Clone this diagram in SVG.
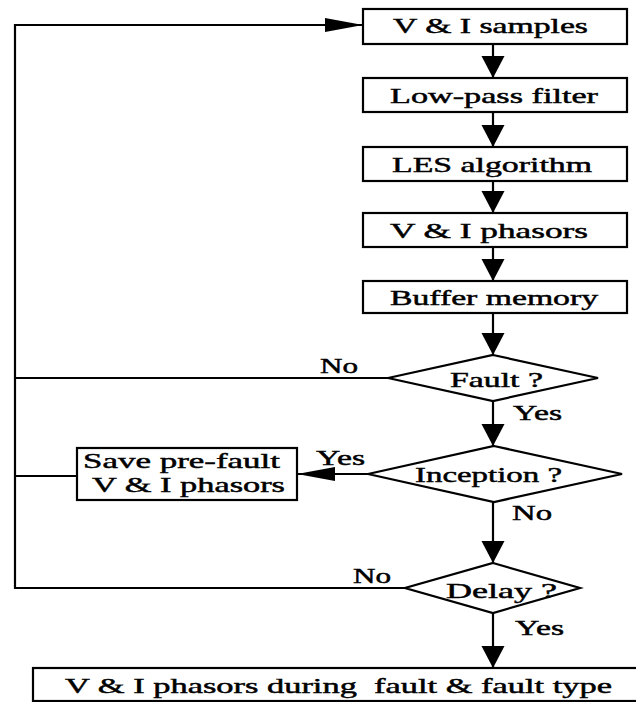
<svg xmlns="http://www.w3.org/2000/svg" width="636" height="702" viewBox="0 0 636 702">
<style>
  .box { fill: #fff; stroke: #000; stroke-width: 2.2; }
  .ln { fill: none; stroke: #000; stroke-width: 2.2; }
  text { font-family: "Liberation Serif", "Times New Roman", serif; font-size: 21px; fill: #000; stroke: #000; stroke-width: 0.45; }
</style>
<defs>
  <marker id="av" markerUnits="userSpaceOnUse" markerWidth="24" markerHeight="26" refX="22" refY="12" orient="auto" viewBox="0 0 24 24">
    <path d="M0,0.5 L22,12 L0,23.5 Z" fill="#000"/>
  </marker>
  <marker id="ah" markerUnits="userSpaceOnUse" markerWidth="40" markerHeight="16" refX="38" refY="7" orient="auto" viewBox="0 0 40 14">
    <path d="M0,0 L38,7 L0,14 Z" fill="#000"/>
  </marker>
</defs>
<g id="connectors">
  <line class="ln" x1="493" y1="44" x2="493" y2="78" marker-end="url(#av)"/>
  <line class="ln" x1="493" y1="112" x2="493" y2="147" marker-end="url(#av)"/>
  <line class="ln" x1="493" y1="181" x2="493" y2="213" marker-end="url(#av)"/>
  <line class="ln" x1="493" y1="247" x2="493" y2="281" marker-end="url(#av)"/>
  <line class="ln" x1="493" y1="313" x2="493" y2="355" marker-end="url(#av)"/>
  <line class="ln" x1="493" y1="401" x2="493" y2="446" marker-end="url(#av)"/>
  <line class="ln" x1="493" y1="502" x2="493" y2="563" marker-end="url(#av)"/>
  <line class="ln" x1="493" y1="613" x2="493" y2="668" marker-end="url(#av)"/>
  <polyline class="ln" points="405,588 15,588 15,25 363,25" marker-end="url(#ah)"/>
  <line class="ln" x1="388" y1="378" x2="15" y2="378"/>
  <line class="ln" x1="77" y1="476" x2="15" y2="476"/>
  <line class="ln" x1="368" y1="474" x2="297" y2="474" marker-end="url(#ah)"/>
  <text x="320" y="373" textLength="38" lengthAdjust="spacingAndGlyphs">No</text>
  <text x="513" y="420" textLength="49" lengthAdjust="spacingAndGlyphs">Yes</text>
  <text x="316" y="465" textLength="49" lengthAdjust="spacingAndGlyphs">Yes</text>
  <text x="512" y="520" textLength="40" lengthAdjust="spacingAndGlyphs">No</text>
  <text x="353" y="583" textLength="38" lengthAdjust="spacingAndGlyphs">No</text>
  <text x="515" y="635" textLength="49" lengthAdjust="spacingAndGlyphs">Yes</text>
</g>
<g id="n1">
  <rect class="box" x="363" y="9" width="264" height="35"/>
  <text x="393" y="33" textLength="195" lengthAdjust="spacingAndGlyphs">V &amp; I samples</text>
</g>
<g id="n2">
  <rect class="box" x="363" y="78" width="264" height="34"/>
  <text x="390" y="103" textLength="208" lengthAdjust="spacingAndGlyphs">Low-pass filter</text>
</g>
<g id="n3">
  <rect class="box" x="363" y="147" width="264" height="34"/>
  <text x="392" y="172" textLength="200" lengthAdjust="spacingAndGlyphs">LES algorithm</text>
</g>
<g id="n4">
  <rect class="box" x="363" y="213" width="264" height="34"/>
  <text x="390" y="238" textLength="198" lengthAdjust="spacingAndGlyphs">V &amp; I phasors</text>
</g>
<g id="n5">
  <rect class="box" x="363" y="281" width="264" height="32"/>
  <text x="390" y="305" textLength="208" lengthAdjust="spacingAndGlyphs">Buffer memory</text>
</g>
<g id="n6">
  <polygon class="box" points="493,355 598,378 493,401 388,378"/>
  <text x="450" y="387" textLength="93" lengthAdjust="spacingAndGlyphs">Fault ?</text>
</g>
<g id="n7">
  <polygon class="box" points="494,446 622,474 494,502 368,474"/>
  <text x="415" y="482" textLength="147" lengthAdjust="spacingAndGlyphs">Inception ?</text>
</g>
<g id="n8">
  <rect class="box" x="77" y="448" width="220" height="52"/>
  <text x="83" y="468" textLength="197" lengthAdjust="spacingAndGlyphs">Save pre-fault</text>
  <text x="92" y="492" textLength="193" lengthAdjust="spacingAndGlyphs">V &amp; I phasors</text>
</g>
<g id="n9">
  <polygon class="box" points="493,563 580,588 493,613 405,588"/>
  <text x="446" y="598" textLength="111" lengthAdjust="spacingAndGlyphs">Delay ?</text>
</g>
<g id="n10">
  <rect class="box" x="33" y="668" width="612" height="33"/>
  <text x="65" y="693" textLength="547" lengthAdjust="spacingAndGlyphs" xml:space="preserve">V &amp; I phasors during  fault &amp; fault type</text>
</g>
</svg>
